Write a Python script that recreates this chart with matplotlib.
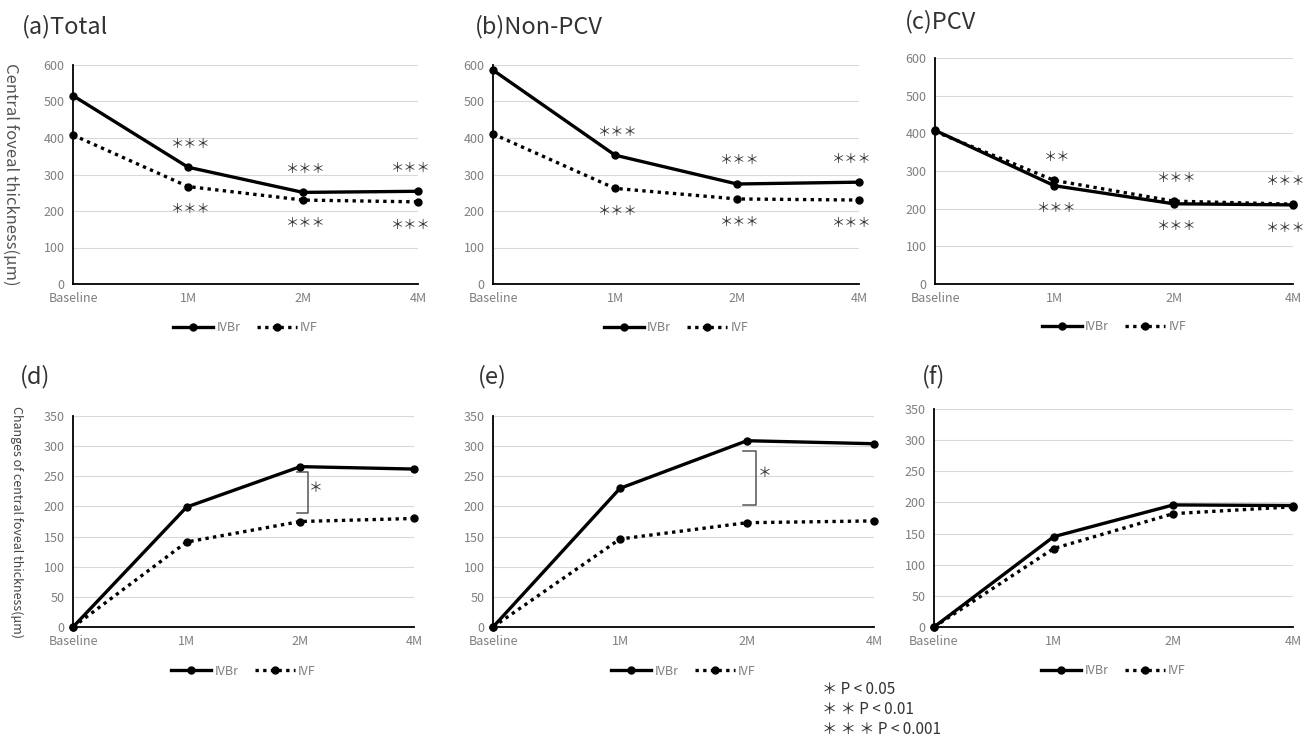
import matplotlib.pyplot as plt

plt.rcParams['font.family'] = ['Noto Sans CJK JP', 'DejaVu Sans']

months = ["Baseline", "1M", "2M", "4M"]

# central foveal thickness (um)
total_ivbr = [516, 320, 251, 254]
total_ivf = [408, 267, 230, 225]
nonpcv_ivbr = [586, 353, 274, 279]
nonpcv_ivf = [411, 262, 233, 230]
pcv_ivbr = [408, 261, 213, 210]
pcv_ivf = [405, 275, 220, 212]

# changes of central foveal thickness (um)
chg_total_ivbr = [0, 199, 266, 262]
chg_total_ivf = [0, 141, 175, 180]
chg_nonpcv_ivbr = [0, 230, 309, 304]
chg_nonpcv_ivf = [0, 146, 173, 176]
chg_pcv_ivbr = [0, 145, 196, 195]
chg_pcv_ivf = [0, 126, 182, 193]

# significance marks vs baseline (upper line / lower line)
total_top = ["", "＊＊＊", "＊＊＊", "＊＊＊"]
total_bottom = ["", "＊＊＊", "＊＊＊", "＊＊＊"]
nonpcv_top = ["", "＊＊＊", "＊＊＊", "＊＊＊"]
nonpcv_bottom = ["", "＊＊＊", "＊＊＊", "＊＊＊"]
pcv_top = ["", "＊＊", "＊＊＊", "＊＊＊"]
pcv_bottom = ["", "＊＊＊", "＊＊＊", "＊＊＊"]

W, H = 1313, 739
fig = plt.figure(figsize=(W / 100, H / 100), dpi=100)

TICK_GRAY = "#7f7f7f"


def px_rect(left, top, right, bottom):
    return [left / W, 1 - bottom / H, (right - left) / W, (bottom - top) / H]


def draw_panel(rect, ivbr, ivf, ymax, ystep, legend_y):
    ax = fig.add_axes(rect)
    x = range(len(months))
    ax.plot(x, ivbr, color="black", lw=2.4, marker="o", ms=5, label="IVBr", clip_on=False, zorder=4)
    ax.plot(x, ivf, color="black", lw=2.4, ls=(0, (1, 1.3)), marker="o", ms=5, label="IVF",
            clip_on=False, zorder=3)
    ax.set_xlim(0, len(months) - 1)
    ax.set_ylim(0, ymax)
    ax.set_yticks(range(0, ymax + 1, ystep))
    ax.set_xticks(list(x))
    ax.set_xticklabels(months)
    ax.tick_params(length=0, labelsize=9, colors=TICK_GRAY, pad=6)
    ax.grid(axis="y", color="#d9d9d9", lw=0.8)
    ax.set_axisbelow(True)
    for s in ["top", "right"]:
        ax.spines[s].set_visible(False)
    for s in ["left", "bottom"]:
        ax.spines[s].set_color("black")
        ax.spines[s].set_linewidth(1.3)
    leg = ax.legend(loc="center", bbox_to_anchor=(0.5, legend_y), ncol=2, frameon=False,
                    fontsize=9, handlelength=3.2, columnspacing=1.3, handletextpad=0.25,
                    numpoints=1)
    for t in leg.get_texts():
        t.set_color(TICK_GRAY)
    return ax


def add_stars(ax, ivbr, ivf, top, bottom):
    last = len(months) - 1
    for i, (a, b) in enumerate(zip(ivbr, ivf)):
        dx = -5 if i == last else 2
        if top[i]:
            ax.annotate(top[i], (i, max(a, b)), xytext=(dx, 12), textcoords="offset points",
                        ha="center", va="bottom", fontsize=9.5, color="#333333")
        if bottom[i]:
            ax.annotate(bottom[i], (i, min(a, b)), xytext=(dx, -12), textcoords="offset points",
                        ha="center", va="top", fontsize=9.5, color="#333333")


def add_bracket(ax, idx, lo, hi):
    xs = [idx - 0.03, idx + 0.07, idx + 0.07, idx - 0.03]
    ax.plot(xs, [hi, hi, lo, lo], color="#555555", lw=1.1)
    ax.text(idx + 0.14, (hi + lo) / 2 + 8, "＊", fontsize=10, ha="center", va="center",
            color="#333333")


# top row
ax_a = draw_panel(px_rect(73, 65, 418, 284), total_ivbr, total_ivf, 600, 100, -0.2)
add_stars(ax_a, total_ivbr, total_ivf, total_top, total_bottom)
ax_a.set_ylabel("Central foveal thickness(μm)", rotation=-90, fontsize=12, color="#555555",
                labelpad=30)

ax_b = draw_panel(px_rect(493, 65, 859, 284), nonpcv_ivbr, nonpcv_ivf, 600, 100, -0.2)
add_stars(ax_b, nonpcv_ivbr, nonpcv_ivf, nonpcv_top, nonpcv_bottom)

ax_c = draw_panel(px_rect(935, 58, 1293, 284), pcv_ivbr, pcv_ivf, 600, 100, -0.19)
add_stars(ax_c, pcv_ivbr, pcv_ivf, pcv_top, pcv_bottom)

# bottom row
ax_d = draw_panel(px_rect(73, 416, 414, 627), chg_total_ivbr, chg_total_ivf, 350, 50, -0.21)
add_bracket(ax_d, 2, 189, 257)
ax_d.set_ylabel("Changes of central foveal thickness(μm)", rotation=-90, fontsize=9,
                color="#444444", labelpad=24)

ax_e = draw_panel(px_rect(493, 416, 874, 627), chg_nonpcv_ivbr, chg_nonpcv_ivf, 350, 50, -0.21)
add_bracket(ax_e, 2, 202, 292)

ax_f = draw_panel(px_rect(934, 409, 1293, 627), chg_pcv_ivbr, chg_pcv_ivf, 350, 50, -0.2)

# panel titles
titles = ["(a)Total", "(b)Non-PCV", "(c)PCV", "(d)", "(e)", "(f)"]
title_px = [(22, 27), (475, 27), (905, 22), (20, 377), (478, 377), (922, 377)]
for t, (tx, ty) in zip(titles, title_px):
    fig.text(tx / W, 1 - ty / H, t, fontsize=17, ha="left", va="center", color="#333333")

# significance key
key = ["＊ P < 0.05", "＊ ＊ P < 0.01", "＊ ＊ ＊ P < 0.001"]
for i, k in enumerate(key):
    fig.text(822 / W, 1 - (690 + 20 * i) / H, k, fontsize=11, ha="left", va="center",
             color="#333333")

fig.savefig("out.png", dpi=100, facecolor="white")
